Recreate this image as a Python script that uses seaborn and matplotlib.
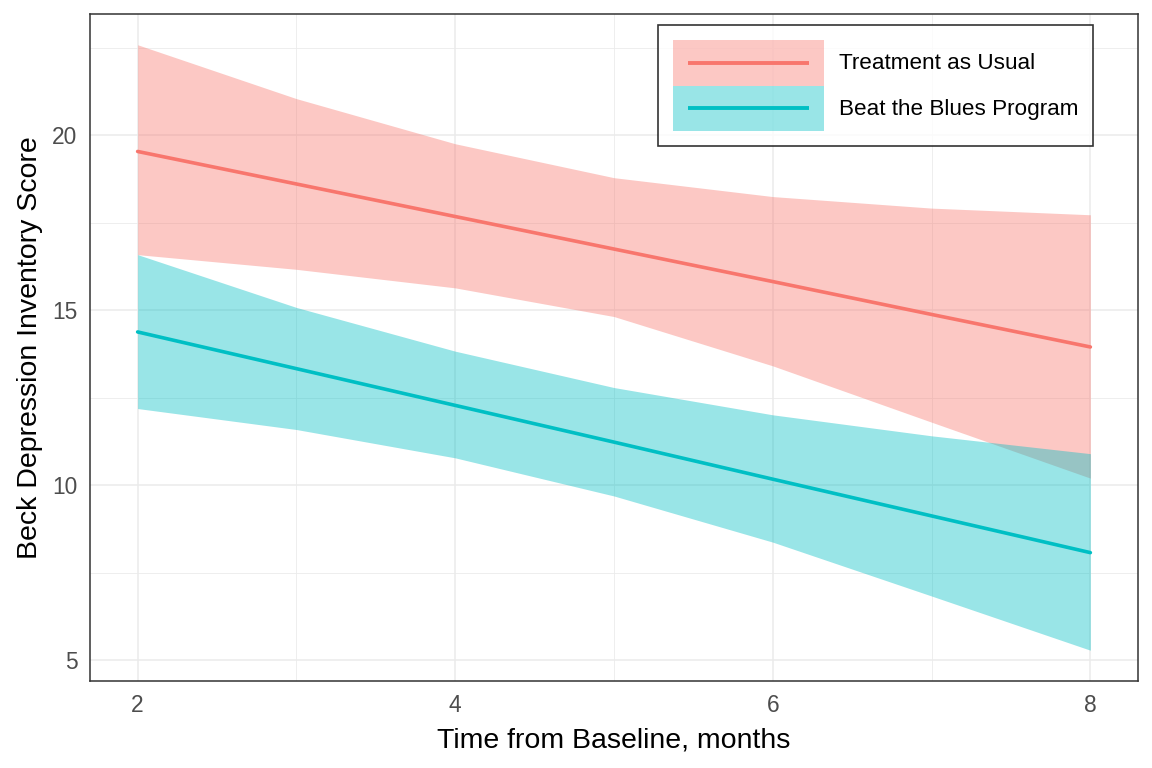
import numpy as np
import pandas as pd
import matplotlib
matplotlib.use("Agg")
import matplotlib.pyplot as plt
from matplotlib.patches import Rectangle
from matplotlib.lines import Line2D
import seaborn as sns

# values
months = [2, 3, 4, 5, 6, 7, 8]
tau_fit = [19.54, 18.61, 17.68, 16.75, 15.82, 14.88, 13.95]
tau_lo = [16.59, 16.17, 15.64, 14.82, 13.41, 11.80, 10.20]
tau_hi = [22.59, 21.05, 19.76, 18.79, 18.25, 17.92, 17.73]
btb_fit = [14.38, 13.33, 12.28, 11.23, 10.17, 9.12, 8.07]
btb_lo = [12.19, 11.59, 10.78, 9.69, 8.37, 6.83, 5.28]
btb_hi = [16.59, 15.08, 13.83, 12.79, 12.01, 11.41, 10.90]
groups = ["Treatment as Usual", "Beat the Blues Program"]
colors = ["#F8766D", "#00BFC4"]

df = pd.concat([
    pd.DataFrame({"month": months, "fit": tau_fit, "lo": tau_lo, "hi": tau_hi, "group": groups[0]}),
    pd.DataFrame({"month": months, "fit": btb_fit, "lo": btb_lo, "hi": btb_hi, "group": groups[1]}),
])


class RibbonKey:
    # ggplot style key: filled box with the line across it
    def legend_artist(self, legend, orig_handle, fontsize, handlebox):
        x0, y0 = handlebox.xdescent, handlebox.ydescent
        w, h = handlebox.width, handlebox.height
        c = orig_handle.get_color()
        rect = Rectangle((-x0, -y0), w, h, facecolor=c, alpha=0.4, linewidth=0,
                         transform=handlebox.get_transform())
        ln = Line2D([-x0 + 0.1 * w, -x0 + 0.9 * w], [-y0 + h / 2] * 2, color=c,
                    linewidth=2.8, solid_capstyle="butt", transform=handlebox.get_transform())
        handlebox.add_artist(rect)
        handlebox.add_artist(ln)
        return rect


sns.set_style("white")
plt.rcParams['font.family'] = ['Liberation Sans', 'DejaVu Sans']

fig = plt.figure(figsize=(11.52, 7.68), dpi=100)
ax = fig.add_axes([90/1152, 1 - 681/768, (1138-90)/1152, (681-14)/768])

for g, c in zip(groups, colors):
    d = df[df.group == g]
    ax.fill_between(d.month, d.lo, d.hi, color=c, alpha=0.4, linewidth=0, zorder=2)

sns.lineplot(data=df, x="month", y="fit", hue="group", palette=colors,
             hue_order=groups, linewidth=2.6, ax=ax, legend=False, zorder=3)

ax.set_xlim(1.7, 8.3)
ax.set_ylim(4.4, 23.47)
ax.set_xticks([2, 4, 6, 8])
ax.set_xticks([3, 5, 7], minor=True)
ax.set_yticks([5, 10, 15, 20])
ax.set_yticks([7.5, 12.5, 17.5, 22.5], minor=True)
ax.grid(which="major", color="#EBEBEB", linewidth=1.1, zorder=0)
ax.grid(which="minor", color="#EBEBEB", linewidth=0.6, zorder=0)
ax.set_axisbelow(True)
ax.tick_params(which="major", length=5, width=1.1, color="#333333",
               labelsize=16.4, labelcolor="#4D4D4D", pad=4)
ax.tick_params(which="minor", length=0)
for s in ax.spines.values():
    s.set_color("#333333")
    s.set_linewidth(1.1)

ax.set_xlabel("Time from Baseline, months", fontsize=20.5, color="black", labelpad=8)
ax.set_ylabel("Beck Depression Inventory Score", fontsize=20.5, color="black", labelpad=7)

handles = [Line2D([], [], color=c) for c in colors]
leg = ax.legend(handles, groups, handler_map={Line2D: RibbonKey()},
                loc="upper right", bbox_to_anchor=(0.957, 0.9835),
                fontsize=16.2, frameon=True, fancybox=False, handlelength=6.7,
                handleheight=2.75, labelspacing=0, handletextpad=0.66,
                borderpad=0.66, borderaxespad=0, labelcolor="black")
leg.get_frame().set_edgecolor("black")
leg.get_frame().set_linewidth(1.2)

fig.savefig("out.png", dpi=100)
